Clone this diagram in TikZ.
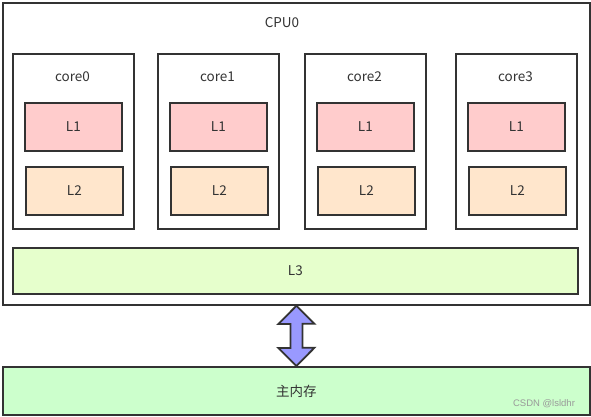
\documentclass[tikz,border=0pt]{standalone}
\usepackage{fontspec}
\setmainfont{Noto Sans CJK SC}
\newfontfamily\wmfont{Liberation Sans}
\usetikzlibrary{positioning}
\definecolor{edge}{HTML}{333333}
\definecolor{txt}{HTML}{333333}
\definecolor{lone}{HTML}{FFCCCC}
\definecolor{ltwo}{HTML}{FFE6CC}
\definecolor{lthree}{HTML}{E6FFCC}
\definecolor{memc}{HTML}{CCFFCC}
\definecolor{arrc}{HTML}{9999FF}
\tikzset{
  box/.style={draw=edge, line width=1.8pt, rectangle, inner sep=0pt, anchor=north west, text=txt, font=\fontsize{13.5}{15}\selectfont},
  corebox/.style={box, fill=white, minimum width=121pt, minimum height=175pt},
  lonebox/.style={box, fill=lone, minimum width=97pt, minimum height=48pt},
  ltwobox/.style={box, fill=ltwo, minimum width=97pt, minimum height=48pt},
  lbl/.style={text=txt, font=\fontsize{13.5}{15}\selectfont, inner sep=0pt},
}
\begin{document}
\begin{tikzpicture}[x=1pt,y=-1pt]
\useasboundingbox[fill=white] (0,0) rectangle (591,417);
\node[box, fill=white, minimum width=587pt, minimum height=302pt] (cpu) at (2,2) {};
\node[lbl] (cpulbl) at (282,23) {CPU0};
\foreach \i/\x in {0/12,1/157,2/304,3/455}{
  \node[corebox] (core\i) at (\x,53) {};
  \node[lbl] (corelbl\i) at (\x+60.5,77) {core\i};
  \node[lonebox] (lone\i) at (\x+12,102) {L1};
  \node[ltwobox] (ltwo\i) at (\x+13,166) {L2};
}
\node[box, fill=lthree, minimum width=565pt, minimum height=46pt] (lthree) at (12,247) {L3};
\node[box, fill=memc, minimum width=587pt, minimum height=48pt] (mem) at (2,366) {主内存};
\node[text=gray!80, font=\wmfont\fontsize{9.5}{10}\selectfont, inner sep=0pt] (wm) at (544,404) {CSDN @lsldhr};
\draw[draw=edge, line width=1.8pt, fill=arrc, line join=miter]
  (cpu.south) -- ++(18,18) -- ++(-12,0) -- ++(0,24) -- ++(12,0)
  -- (mem.north) -- ++(-18,-18) -- ++(12,0) -- ++(0,-24) -- ++(-12,0) -- cycle;
\end{tikzpicture}
\end{document}
